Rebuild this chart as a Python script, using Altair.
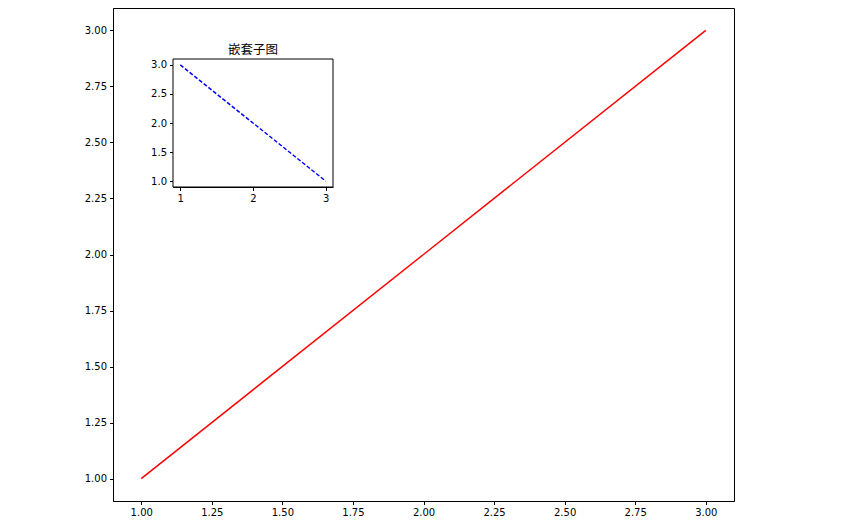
import altair as alt
import pandas as pd

main_x = [1, 2, 3]
main_y = [1, 2, 3]
inset_x = [1, 2, 3]
inset_y = [3, 2, 1]
main_ticks = [1.0, 1.25, 1.5, 1.75, 2.0, 2.25, 2.5, 2.75, 3.0]
inset_xticks = [1, 2, 3]
inset_yticks = [1.0, 1.5, 2.0, 2.5, 3.0]
inset_title = "嵌套子图"

main_df = pd.DataFrame({"x": main_x, "y": main_y})
inset_df = pd.DataFrame({"x": inset_x, "y": inset_y})

W, H = 621, 493
# inset frame in plot pixels
IX0, IX1, IY0, IY1 = 60, 220, 51, 179

axis_common = dict(grid=False, title=None, domainColor="black", tickColor="black",
                   labelColor="black", labelFont="DejaVu Sans", labelFontSize=10,
                   tickSize=3.5, labelPadding=3, domainWidth=1, tickWidth=1)

main = alt.Chart(main_df).mark_line(color="#ff0000", strokeWidth=1.5).encode(
    x=alt.X("x:Q", scale=alt.Scale(domain=[0.9, 3.1], nice=False, zero=False),
            axis=alt.Axis(values=main_ticks, format=".2f", **axis_common)),
    y=alt.Y("y:Q", scale=alt.Scale(domain=[0.9, 3.1], nice=False, zero=False),
            axis=alt.Axis(values=main_ticks, format=".2f", **axis_common)),
)

frame = alt.Chart(alt.Data(values=[{"a": 1}])).mark_rect(
    fill="white", stroke="black", strokeWidth=1
).encode(
    x=alt.value(IX0), x2=alt.value(IX1), y=alt.value(IY0), y2=alt.value(IY1)
)

inset = alt.Chart(inset_df).mark_line(color="#0000ff", strokeWidth=1.5, strokeDash=[4, 2]).encode(
    x=alt.X("x:Q", scale=alt.Scale(domain=[0.9, 3.1], nice=False, zero=False, range=[IX0, IX1]),
            axis=alt.Axis(values=inset_xticks, format="d", orient="bottom", offset=IY1 - H,
                          **axis_common)),
    y=alt.Y("y:Q", scale=alt.Scale(domain=[0.9, 3.1], nice=False, zero=False, range=[IY1, IY0]),
            axis=alt.Axis(values=inset_yticks, format=".1f", orient="left", offset=-IX0,
                          **axis_common)),
)

title = alt.Chart(alt.Data(values=[{"t": inset_title}])).mark_text(
    font="Noto Sans CJK SC", fontSize=12.5, color="black", baseline="middle", align="center"
).encode(
    x=alt.value((IX0 + IX1) / 2), y=alt.value(42), text="t:N"
)

chart = alt.layer(main, frame, inset, title).resolve_scale(
    x="independent", y="independent"
).properties(
    width=W, height=H, autosize="none",
    padding={"left": 105, "top": 0, "right": 116, "bottom": 19},
    background="white",
).configure_view(stroke="black", strokeWidth=1)

chart.save("out.html", embed_options={"renderer": "svg", "actions": False})
